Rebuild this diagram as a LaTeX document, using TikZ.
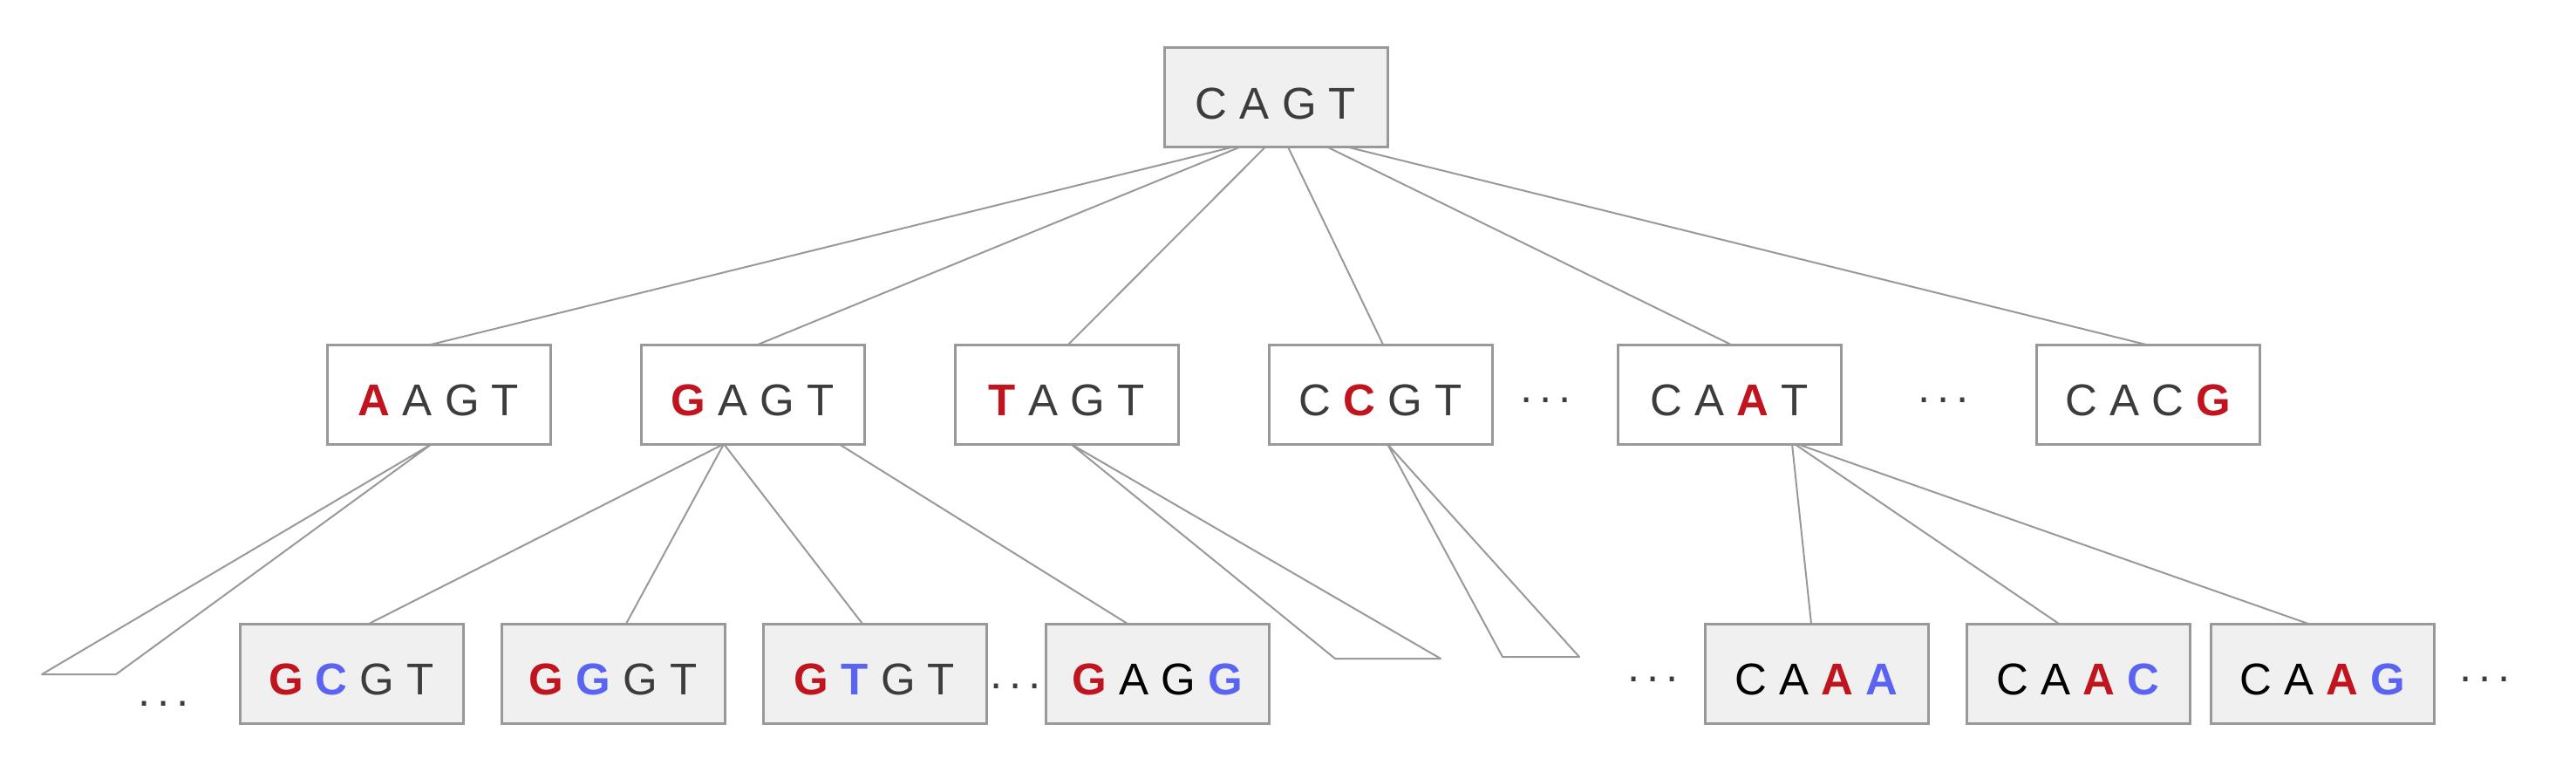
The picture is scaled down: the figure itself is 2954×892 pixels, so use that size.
\documentclass[tikz,border=0pt]{standalone}
\usepackage{fontspec}
\setmainfont{Liberation Sans}
\usetikzlibrary{calc}
\definecolor{cred}{HTML}{C0141F}
\definecolor{cblue}{HTML}{5A64F0}
\definecolor{txtgray}{HTML}{3C3C3C}
\definecolor{boxgray}{HTML}{999999}
\definecolor{boxfill}{HTML}{F0F0F0}
\definecolor{linegray}{HTML}{999999}
\newcommand{\redL}[1]{\textcolor{cred}{\bfseries #1}}
\newcommand{\bluL}[1]{\textcolor{cblue}{\bfseries #1}}
\newcommand{\blkL}[1]{\textcolor{black}{#1}}
\tikzset{
  box/.style={draw=boxgray, line width=0.75pt, minimum width=64pt, minimum height=28.5pt,
    inner sep=0pt, outer sep=0pt, text height=12.25pt, text depth=0pt,
    font=\fontsize{12.75}{15}\selectfont, text=txtgray},
  filledbox/.style={box, fill=boxfill},
  plainbox/.style={box, fill=white},
  conn/.style={draw=linegray, line width=0.5pt, line join=round},
  dotsnode/.style={inner sep=0pt, outer sep=0pt, text=txtgray, font=\fontsize{12.75}{15}\selectfont}
}
\begin{document}
\begin{tikzpicture}[x=0.25pt, y=-0.25pt]
\useasboundingbox (0,0) rectangle (2954,892);
% root
\node[filledbox] (root) at (1463,111.5) {C A G T};
% level 2
\node[plainbox] (aagt) at (503,452) {\redL{A} A G T};
\node[plainbox] (gagt) at (863,452) {\redL{G} A G T};
\node[plainbox] (tagt) at (1223,452) {\redL{T} A G T};
\node[plainbox] (ccgt) at (1583,452) {C \redL{C} G T};
\node[plainbox] (caat) at (1983,452) {C A \redL{A} T};
\node[plainbox] (cacg) at (2463,452) {C A C \redL{G}};
% level 3
\node[filledbox] (gcgt) at (403,772) {\redL{G} \bluL{C} G T};
\node[filledbox] (gggt) at (703,772) {\redL{G} \bluL{G} G T};
\node[filledbox] (gtgt) at (1003,772) {\redL{G} \bluL{T} G T};
\node[filledbox] (gagg) at (1327,772) {\redL{G} \blkL{A G} \bluL{G}};
\node[filledbox] (caaa) at (2083,772) {\blkL{C A} \redL{A} \bluL{A}};
\node[filledbox] (caac) at (2383,772) {\blkL{C A} \redL{A} \bluL{C}};
\node[filledbox] (caag) at (2663,772) {\blkL{C A} \redL{A} \bluL{G}};
% dots
\node[dotsnode] (d1) at (188,807) {.\kern1.96pt.\kern1.96pt.};
\node[dotsnode] (d2) at (1165,787) {.\kern1.96pt.\kern1.96pt.};
\node[dotsnode] (d3) at (1896,779) {.\kern1.96pt.\kern1.96pt.};
\node[dotsnode] (d4) at (2850,779) {.\kern1.96pt.\kern1.96pt.};
\node[dotsnode] (d5) at (1773,459) {.\kern1.96pt.\kern1.96pt.};
\node[dotsnode] (d6) at (2229,459) {.\kern1.96pt.\kern1.96pt.};
% triangle corners
\coordinate (ta1) at (48,773);
\coordinate (ta2) at (133,773);
\coordinate (tt1) at (1531,755);
\coordinate (tt2) at (1652,755);
\coordinate (tc1) at (1723,753);
\coordinate (tc2) at (1811,753);
% root to level 2
\draw[conn] ($(root.south west)+(79,0)$) -- ($(aagt.north west)+(119,0)$);
\draw[conn] ($(root.south west)+(87,0)$) -- ($(gagt.north west)+(134,0)$);
\draw[conn] ($(root.south west)+(116,0)$) -- ($(tagt.north west)+(130,0)$);
\draw[conn] ($(root.south west)+(142,0)$) -- ($(ccgt.north west)+(131,0)$);
\draw[conn] ($(root.south west)+(187,0)$) -- ($(caat.north west)+(130,0)$);
\draw[conn] ($(root.south west)+(210,0)$) -- ($(cacg.north west)+(126,0)$);
% level 2 to level 3
\draw[conn] ($(gagt.south west)+(95,0)$) -- ($(gcgt.north west)+(148,0)$);
\draw[conn] ($(gagt.south west)+(95,0)$) -- ($(gggt.north west)+(143,0)$);
\draw[conn] ($(gagt.south west)+(95,0)$) -- ($(gtgt.north west)+(114,0)$);
\draw[conn] ($(gagt.south west)+(227,0)$) -- ($(gagg.north west)+(94,0)$);
\draw[conn] ($(caat.south west)+(200,0)$) -- ($(caaa.north west)+(122,0)$);
\draw[conn] ($(caat.south west)+(203,0)$) -- ($(caac.north west)+(106,0)$);
\draw[conn] ($(caat.south west)+(206,0)$) -- ($(caag.north west)+(112,0)$);
% collapsed subtrees
\draw[conn] ($(aagt.south west)+(120,0)$) -- (ta1) -- (ta2) -- cycle;
\draw[conn] ($(tagt.south west)+(133,0)$) -- (tt1) -- (tt2) -- cycle;
\draw[conn] ($(ccgt.south west)+(136,0)$) -- (tc1) -- (tc2) -- cycle;
\end{tikzpicture}
\end{document}
